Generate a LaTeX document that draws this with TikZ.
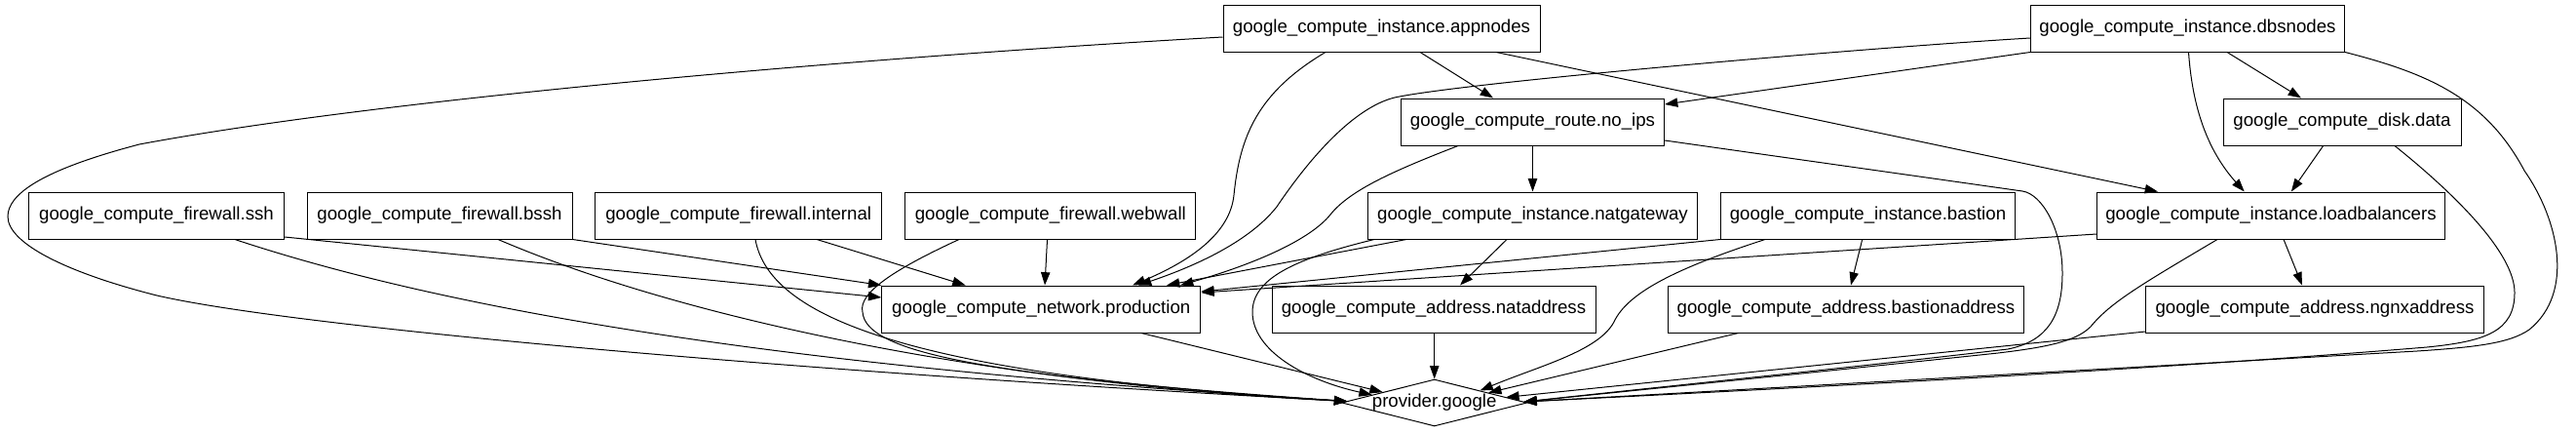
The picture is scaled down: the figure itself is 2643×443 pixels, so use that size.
\documentclass[tikz,border=0pt]{standalone}
\usepackage{fontspec}
\setmainfont{Liberation Sans}
\usetikzlibrary{arrows.meta,shapes.geometric,calc}
\begin{document}
\begin{tikzpicture}[x=0.75pt,y=-0.75pt,
  box/.style={draw, line width=0.75pt, rectangle, minimum height=36pt, inner sep=0pt,
    font=\fontsize{14pt}{16pt}\selectfont},
  provshape/.style={draw, line width=0.75pt, diamond, aspect=3.96, minimum width=142.5pt,
    minimum height=36pt, inner sep=-3pt, font=\fontsize{14pt}{16pt}\selectfont},
  conn/.style={line width=0.75pt, -{Triangle[length=10pt,width=7pt]}}]
\useasboundingbox (0,0) rectangle (2643,443);
% nodes
\node[box, minimum width=243.75pt] (app) at (1417.5,29) {google\_compute\_instance.appnodes};
\node[box, minimum width=241.5pt] (dbs) at (2244.5,29) {google\_compute\_instance.dbsnodes};
\node[box, minimum width=202.5pt] (noips) at (1572.5,125) {google\_compute\_route.no\_ips};
\node[box, minimum width=183pt] (disk) at (2403,125) {google\_compute\_disk.data};
\node[box, minimum width=196.5pt] (ssh) at (160.5,221) {google\_compute\_firewall.ssh};
\node[box, minimum width=204pt] (bssh) at (451,221) {google\_compute\_firewall.bssh};
\node[box, minimum width=220.5pt] (internal) at (757.7,221) {google\_compute\_firewall.internal};
\node[box, minimum width=223.5pt] (webwall) at (1077.8,221) {google\_compute\_firewall.webwall};
\node[box, minimum width=253.5pt] (natgw) at (1572.5,221) {google\_compute\_instance.natgateway};
\node[box, minimum width=226.5pt] (bastion) at (1916.5,221) {google\_compute\_instance.bastion};
\node[box, minimum width=267.75pt] (lb) at (2330,221) {google\_compute\_instance.loadbalancers};
\node[box, minimum width=245.25pt] (prod) at (1068.3,317) {google\_compute\_network.production};
\node[box, minimum width=249pt] (nataddr) at (1471,317) {google\_compute\_address.nataddress};
\node[box, minimum width=273.75pt] (bastaddr) at (1894,317) {google\_compute\_address.bastionaddress};
\node[box, minimum width=259.9pt] (ngnx) at (2375,317) {google\_compute\_address.ngnxaddress};
\node[provshape] (prov) at (1471.7,413) {provider.google};
% firewalls
\draw[conn] (ssh.east |- 0,243) -- (prod.west |- 0,305);
\draw[conn] (ssh.south -| 241,0) .. controls (541,345) and (983,387) .. ($(prov.west)!0.063!(prov.north)$);
\draw[conn] (bssh.south east) -- (prod.north west);
\draw[conn] (bssh.south -| 511,0) .. controls (720,335) and (1050,395) .. ($(prov.west)!0.063!(prov.north)$);
\draw[conn] (internal.south -| 838,0) -- (prod.north -| 990.6,0);
\draw[conn] (internal.south -| 775,0) .. controls (790,330) and (950,385) .. ($(prov.west)!0.063!(prov.north)$);
\draw[conn] (webwall.south -| 1074.5,0) -- (prod.north -| 1072,0);
\draw[conn] (webwall.south -| 984,0) .. controls (920,275) and (880,300) .. (885,320) .. controls (888,360) and (1000,385) .. ($(prov.west)!0.063!(prov.north)$);
% production
\draw[conn] (prod.south -| 1171,0) -- ($(prov.west)!0.445!(prov.north)$);
% appnodes
\draw[conn] (app.south -| 1457,0) -- (noips.north -| 1532,0);
\draw[conn] (app.south -| 1360,0) .. controls (1290,95) and (1272,140) .. (1266,200) .. controls (1262,240) and (1220,268) .. (prod.north -| 1162,0);
\draw[conn] (app.south -| 1535,0) -- (lb.north -| 2214,0);
\draw[conn] (app.west |- 0,38) .. controls (900,58) and (400,100) .. (143,148) .. controls (40,175) and (8,200) .. (8,222) .. controls (8,250) and (70,280) .. (161,303) .. controls (300,335) and (800,380) .. ($(prov.west)!0.063!(prov.north)$);
% dbsnodes
\draw[conn] (dbs.south west) -- (noips.east |- 0,107);
\draw[conn] (dbs.west |- 0,39) .. controls (1900,50) and (1500,85) .. (1431,100) .. controls (1390,110) and (1345,160) .. (1310,212) .. controls (1280,250) and (1220,275) .. (prod.north -| 1168,0);
\draw[conn] (dbs.south -| 2285,0) -- (disk.north -| 2361,0);
\draw[conn] (dbs.south -| 2245.5,0) .. controls (2250,120) and (2270,160) .. (lb.north -| 2302.7,0);
\draw[conn] (dbs.south east) .. controls (2490,75) and (2550,100) .. (2590,175) .. controls (2625,225) and (2642,300) .. (2595,338) .. controls (2575,352) and (2540,356) .. (2480,360) .. controls (2200,376) and (1850,396) .. ($(prov.east)!0.04!(prov.north)$);
% disk
\draw[conn] (disk.south -| 2383.6,0) -- (lb.north -| 2350.8,0);
\draw[conn] (disk.south -| 2457,0) .. controls (2520,200) and (2580,260) .. (2580,300) .. controls (2580,340) and (2550,350) .. (2490,356) .. controls (2200,380) and (1800,400) .. ($(prov.east)!0.04!(prov.north)$);
% no_ips
\draw[conn] (noips.south) -- (natgw.north);
\draw[conn] (noips.south -| 1496,0) .. controls (1430,175) and (1385,195) .. (1365,220) .. controls (1345,245) and (1290,270) .. (prod.north -| 1211,0);
\draw[conn] (noips.east |- 0,144) -- (2075,196) .. controls (2095,199) and (2116,235) .. (2116,280) .. controls (2116,325) and (2100,350) .. (2060,358) .. controls (1900,377) and (1700,397) .. ($(prov.east)!0.04!(prov.north)$);
% natgateway
\draw[conn] (natgw.south -| 1443,0) -- (prod.north -| 1197,0);
\draw[conn] (natgw.south -| 1410,0) .. controls (1330,265) and (1285,285) .. (1285,320) .. controls (1285,360) and (1340,390) .. ($(prov.west)!0.33!(prov.north)$);
\draw[conn] (natgw.south -| 1546,0) -- (nataddr.north -| 1498,0);
% nataddress
\draw[conn] (nataddr.south -| prov.north) -- (prov.north);
% bastion
\draw[conn] (bastion.south west) -- (prod.east |- 0,299);
\draw[conn] (bastion.south -| 1910.7,0) -- (bastaddr.north -| 1899,0);
\draw[conn] (bastion.south -| 1811,0) .. controls (1720,275) and (1670,300) .. (1656,330) .. controls (1640,360) and (1580,375) .. ($(prov.east)!0.51!(prov.north)$);
\draw[conn] (bastaddr.south -| 1783.5,0) -- ($(prov.east)!0.42!(prov.north)$);
% loadbalancers
\draw[conn] (lb.west |- 0,240) -- (prod.east |- 0,300);
\draw[conn] (lb.south -| 2343,0) -- (ngnx.north -| 2362,0);
\draw[conn] (lb.south -| 2275,0) .. controls (2200,290) and (2165,310) .. (2145,335) .. controls (2130,350) and (2100,356) .. (2050,362) .. controls (1900,378) and (1700,398) .. ($(prov.east)!0.04!(prov.north)$);
% ngnxaddress
\draw[conn] (ngnx.west |- 0,340) -- ($(prov.east)!0.23!(prov.north)$);
\end{tikzpicture}
\end{document}
